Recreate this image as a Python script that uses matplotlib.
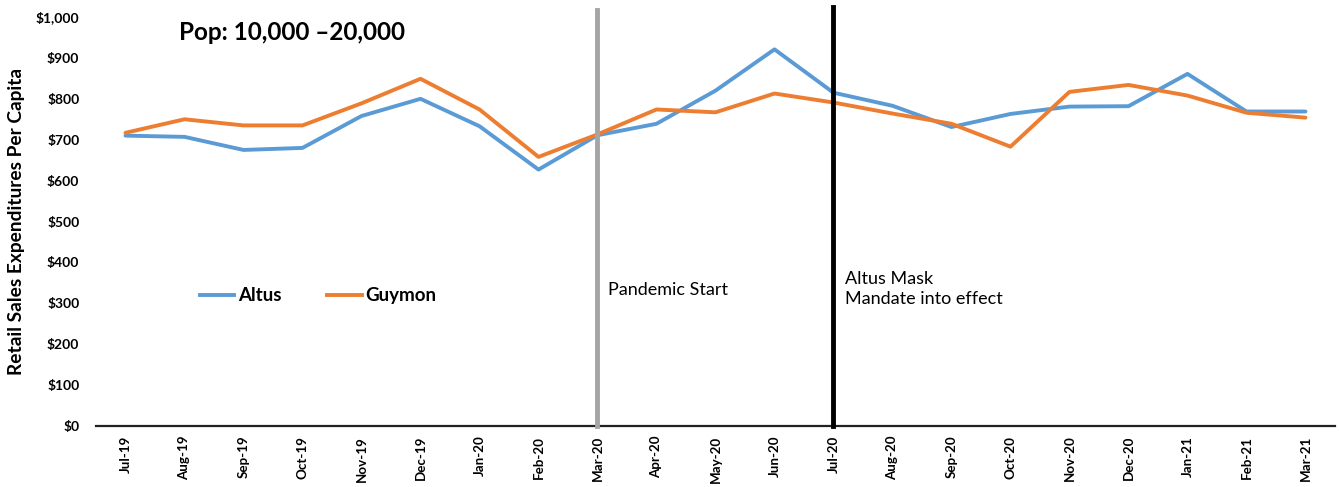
import matplotlib
matplotlib.use("Agg")
import matplotlib.pyplot as plt
from matplotlib.lines import Line2D

months = ["Jul-19", "Aug-19", "Sep-19", "Oct-19", "Nov-19", "Dec-19", "Jan-20",
          "Feb-20", "Mar-20", "Apr-20", "May-20", "Jun-20", "Jul-20", "Aug-20",
          "Sep-20", "Oct-20", "Nov-20", "Dec-20", "Jan-21", "Feb-21", "Mar-21"]
altus = [710, 707, 675, 680, 758, 800, 733, 627, 711, 739, 820, 921, 815, 783,
         731, 763, 781, 782, 861, 769, 769]
guymon = [717, 750, 735, 735, 789, 849, 774, 658, 713, 774, 767, 813, 791, 764,
          739, 683, 817, 834, 808, 766, 754]
yticks = [0, 100, 200, 300, 400, 500, 600, 700, 800, 900, 1000]
pandemic_month = "Mar-20"
mandate_month = "Jul-20"

plt.rcParams["font.family"] = ["Lato", "DejaVu Sans"]

fig = plt.figure(figsize=(13.39, 4.87), dpi=100)
ax = fig.add_axes([0.0717, 0.1253, 0.9253, 0.8397])

x = list(range(len(months)))
ax.plot(x, altus, color="#5B9BD5", lw=2.8, solid_capstyle="round", label="Altus", zorder=3)
ax.plot(x, guymon, color="#ED7D31", lw=2.8, solid_capstyle="round", label="Guymon", zorder=3)

ax.set_xlim(-0.5, len(months) - 0.5)
ax.set_ylim(0, 1000)
ax.set_yticks(yticks)
ax.set_yticklabels([f"${v:,}" for v in yticks], fontweight="bold", fontsize=10)
ax.set_xticks(x)
ax.set_xticklabels(months, rotation=90, fontweight="bold", fontsize=9.6)
ax.tick_params(axis="both", length=0)
ax.tick_params(axis="y", pad=12)
ax.tick_params(axis="x", pad=7)

for s in ["left", "right", "top"]:
    ax.spines[s].set_visible(False)
ax.spines["bottom"].set_linewidth(1.6)
ax.spines["bottom"].set_color("#222222")

ax.set_ylabel("Retail Sales Expenditures Per Capita", fontweight="bold", fontsize=13.8, labelpad=8)

# event markers
xp = months.index(pandemic_month)
xm = months.index(mandate_month)
ax.plot([xp, xp], [0, 1017], color="#A5A5A5", lw=3.5, clip_on=False, zorder=4)
ax.plot([xm, xm], [0, 1025], color="black", lw=3.5, clip_on=False, zorder=4)
ax.text(xp + 0.18, 333, "Pandemic Start", fontsize=13, va="center", ha="left")
ax.text(xm + 0.2, 335, "Altus Mask\nMandate into effect", fontsize=13, va="center",
        ha="left", linespacing=1.25)

ax.text(0.9, 963, "Pop: 10,000 \u201320,000", fontsize=17.5, fontweight="bold", va="center", ha="left")

handles = [Line2D([], [], color="#5B9BD5", lw=2.8), Line2D([], [], color="#ED7D31", lw=2.8)]
leg = ax.legend(handles, ["Altus", "Guymon"], loc="center left", bbox_to_anchor=(0.07, 0.318),
                ncol=2, frameon=False, handlelength=1.85, handletextpad=0.22, columnspacing=2.4,
                prop={"weight": "bold", "size": 13.5})

fig.savefig("out.png", dpi=100)
